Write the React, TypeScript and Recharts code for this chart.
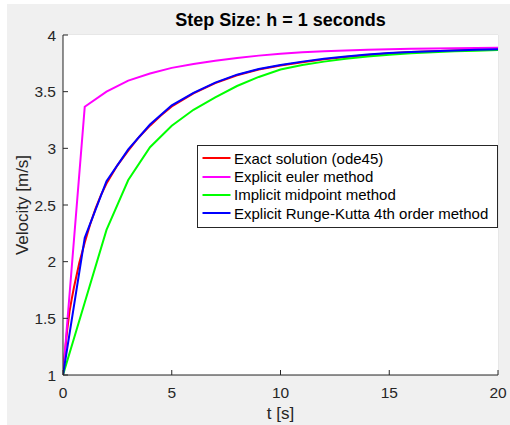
import React from 'react';
import { LineChart, Line, XAxis, YAxis, CartesianGrid, ReferenceArea } from 'recharts';

// Fixed-step solutions (h = 1 s)
const stepTimes = [0, 1, 2, 3, 4, 5, 6, 7, 8, 9, 10, 11, 12, 13, 14, 15, 16, 17, 18, 19, 20];
const eulerVelocity = [1.0, 3.367, 3.5, 3.597, 3.66, 3.71, 3.745, 3.773, 3.797, 3.818, 3.835, 3.847, 3.856, 3.863, 3.869, 3.874, 3.878, 3.881, 3.884, 3.886, 3.888];
const midpointVelocity = [1.0, 1.64, 2.28, 2.72, 3.01, 3.2, 3.34, 3.45, 3.55, 3.63, 3.695, 3.735, 3.765, 3.79, 3.81, 3.826, 3.838, 3.848, 3.856, 3.862, 3.868];
const rk4Velocity = [1.0, 2.21, 2.71, 2.99, 3.21, 3.38, 3.49, 3.58, 3.65, 3.7, 3.735, 3.765, 3.79, 3.81, 3.828, 3.842, 3.85, 3.857, 3.863, 3.869, 3.874];

// Reference solution (adaptive steps)
const ode45Times = [0, 0.1, 0.2, 0.3, 0.4, 0.5, 0.75, 1, 1.25, 1.5, 1.75, 2, 2.5, 3, 3.5, 4, 4.5, 5, 6, 7, 8, 9, 10, 11, 12, 13, 14, 15, 16, 17, 18, 19, 20];
const ode45Velocity = [1.0, 1.22, 1.41, 1.56, 1.67, 1.77, 1.99, 2.17, 2.33, 2.47, 2.59, 2.69, 2.85, 2.98, 3.1, 3.2, 3.29, 3.37, 3.485, 3.575, 3.645, 3.695, 3.73, 3.76, 3.785, 3.806, 3.824, 3.838, 3.849, 3.857, 3.863, 3.868, 3.872];

const xTicks = [0, 5, 10, 15, 20];
const yTicks = [1, 1.5, 2, 2.5, 3, 3.5, 4];

const seriesNames = ['Exact solution (ode45)', 'Explicit euler method', 'Implicit midpoint method', 'Explicit Runge-Kutta 4th order method'];
const seriesColors = ['#ff0000', '#ff00ff', '#00ff00', '#0000ff'];

const titleText = 'Step Size: h = 1 seconds';
const xLabel = 't [s]';
const yLabel = 'Velocity [m/s]';

const toPoints = (ts: number[], vs: number[]) => ts.map((t, i) => ({ t, v: vs[i] }));

const seriesData = [
  toPoints(ode45Times, ode45Velocity),
  toPoints(stepTimes, eulerVelocity),
  toPoints(stepTimes, midpointVelocity),
  toPoints(stepTimes, rk4Velocity),
];

const FONT = '"Liberation Sans", Arial, Helvetica, sans-serif';
const AXIS = '#262626';

const LegendBox = () => (
  <div
    style={{
      position: 'absolute',
      left: 197,
      top: 145,
      width: 301,
      border: `1px solid ${AXIS}`,
      background: '#fff',
      padding: '3px 4px 4px 4px',
      fontFamily: FONT,
      fontSize: 15,
      color: '#000',
      boxSizing: 'border-box',
    }}
  >
    {seriesNames.map((name, i) => (
      <div key={name} style={{ display: 'flex', alignItems: 'center', height: 18.4, whiteSpace: 'nowrap' }}>
        <svg width={29} height={6} style={{ flex: 'none' }}>
          <line x1={0.5} y1={3} x2={28.5} y2={3} stroke={seriesColors[i]} strokeWidth={2} />
        </svg>
        <span style={{ marginLeft: 3 }}>{name}</span>
      </div>
    ))}
  </div>
);

export default function App() {
  return (
    <div style={{ position: 'fixed', left: 0, top: 0, width: 510, height: 425, background: '#ffffff' }}>
      <div style={{ position: 'absolute', left: 7, top: 4, right: 0, bottom: 0, background: '#f0f0f0' }} />
      <div style={{ position: 'absolute', left: 0, top: 0 }}>
        <LineChart width={510} height={425} margin={{ top: 35, right: 12, bottom: 20, left: 13 }}>
          <ReferenceArea x1={0} x2={20} y1={1} y2={4} fill="#ffffff" fillOpacity={1} stroke="none" />
          <CartesianGrid stroke="#dedede" strokeWidth={1} />
          <XAxis
            dataKey="t"
            type="number"
            domain={[0, 20]}
            ticks={xTicks}
            allowDataOverflow
            axisLine={{ stroke: AXIS }}
            tickLine={{ stroke: AXIS }}
            tickSize={-5}
            tickMargin={17}
            height={30}
            tick={{ fill: AXIS, fontSize: 15.5, fontFamily: FONT }}
          />
          <XAxis
            xAxisId="top"
            orientation="top"
            dataKey="t"
            type="number"
            domain={[0, 20]}
            ticks={xTicks}
            axisLine={{ stroke: AXIS }}
            tickLine={{ stroke: AXIS }}
            tickSize={-5}
            tick={false}
            height={0}
          />
          <YAxis
            type="number"
            domain={[1, 4]}
            ticks={yTicks}
            allowDataOverflow
            width={50}
            axisLine={{ stroke: AXIS }}
            tickLine={{ stroke: AXIS }}
            tickSize={-5}
            tickMargin={12}
            tick={{ fill: AXIS, fontSize: 15.5, fontFamily: FONT }}
          />
          <YAxis
            yAxisId="right"
            orientation="right"
            type="number"
            domain={[1, 4]}
            ticks={yTicks}
            width={0}
            axisLine={{ stroke: AXIS }}
            tickLine={{ stroke: AXIS }}
            tickSize={-5}
            tick={false}
          />
          {seriesData.map((d, i) => (
            <Line
              key={seriesNames[i]}
              data={d}
              dataKey="v"
              name={seriesNames[i]}
              type="linear"
              stroke={seriesColors[i]}
              strokeWidth={2}
              dot={false}
              activeDot={false}
              isAnimationActive={false}
            />
          ))}
          <text x={280.5} y={26} textAnchor="middle" fontFamily={FONT} fontSize={18} fontWeight="bold" fill="#000">
            {titleText}
          </text>
          <text x={280.5} y={419} textAnchor="middle" fontFamily={FONT} fontSize={17} fill={AXIS}>
            {xLabel}
          </text>
          <text
            x={22}
            y={205}
            transform="rotate(-90, 22, 205)"
            textAnchor="middle"
            dominantBaseline="central"
            fontFamily={FONT}
            fontSize={17}
            fill={AXIS}
          >
            {yLabel}
          </text>
        </LineChart>
      </div>
      <LegendBox />
    </div>
  );
}
